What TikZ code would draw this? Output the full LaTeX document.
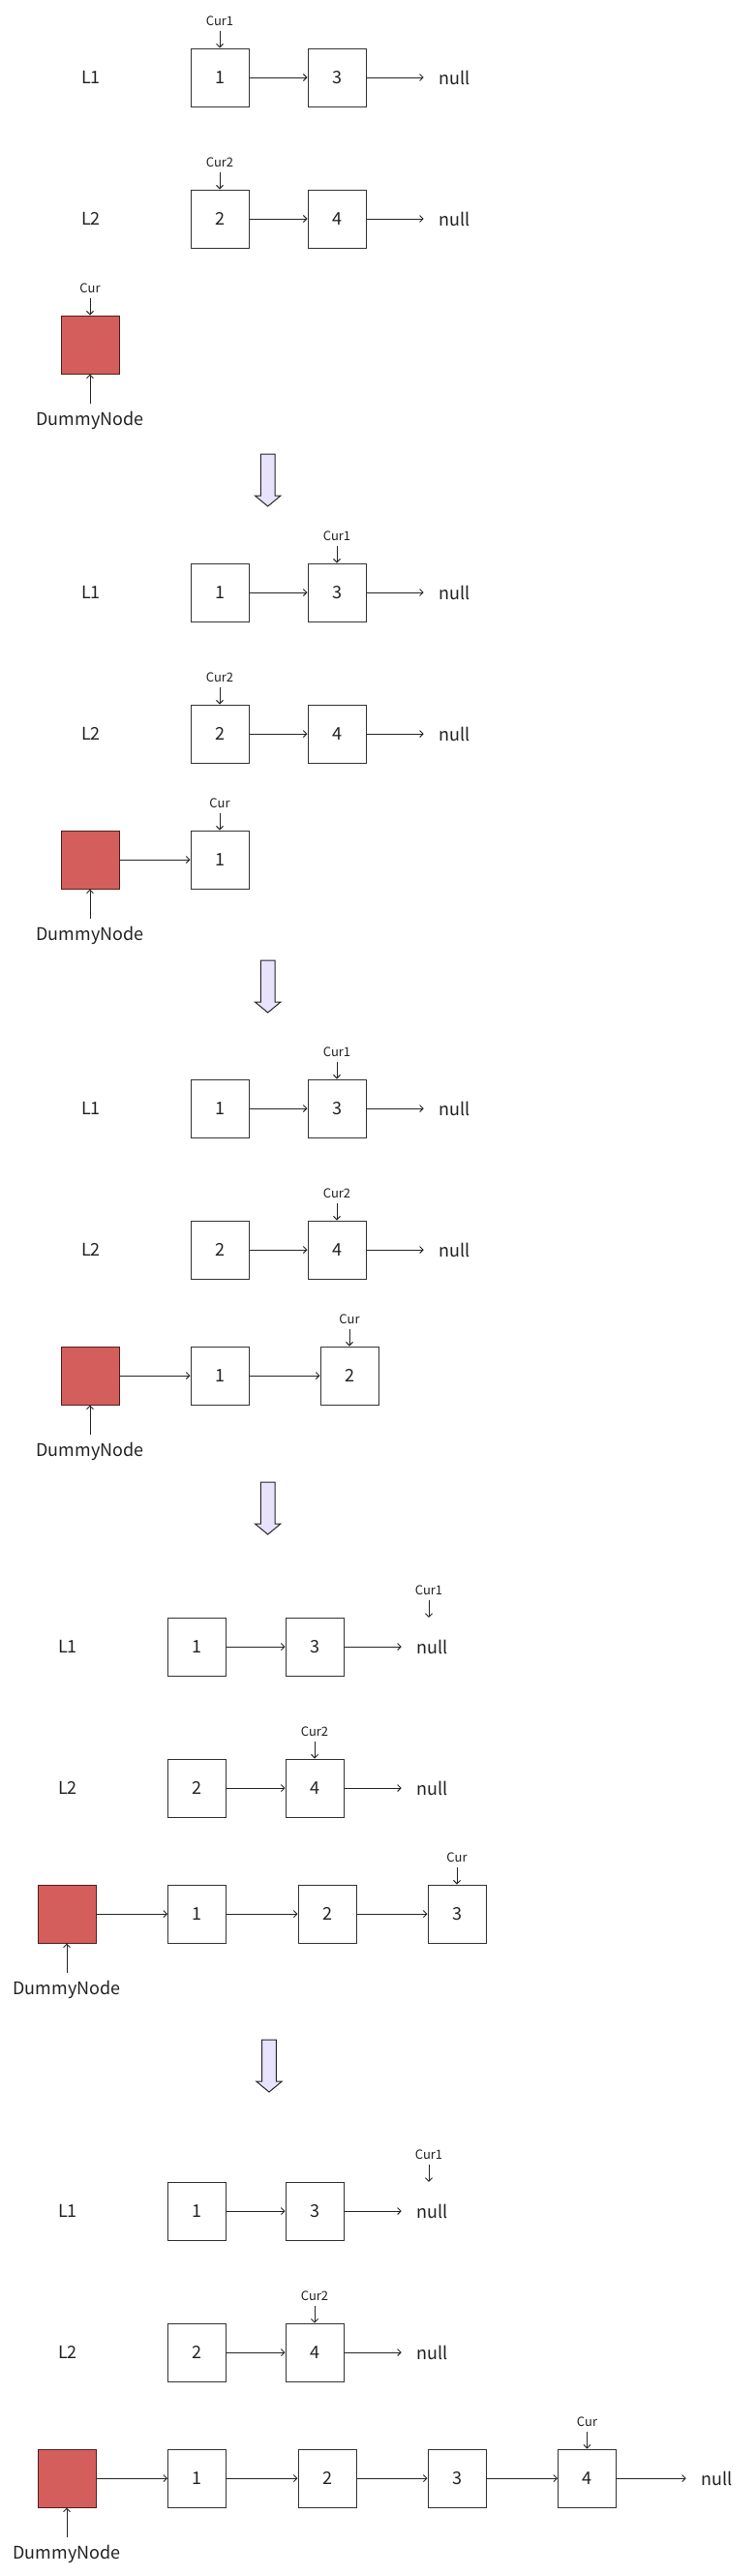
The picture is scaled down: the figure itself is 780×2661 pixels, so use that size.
\documentclass[tikz,border=0pt]{standalone}
\usepackage{fontspec}
\newfontfamily\cjk{Noto Sans CJK SC}
\usetikzlibrary{arrows.meta,positioning}
\definecolor{dummyred}{RGB}{211,94,91}
\definecolor{dummyedge}{RGB}{80,32,32}
\definecolor{lav}{RGB}{232,226,252}
\definecolor{ink}{RGB}{34,34,34}
\newcommand{\bigf}{\fontsize{18}{22}\selectfont\cjk}
\newcommand{\smallf}{\fontsize{13}{15}\selectfont\cjk}
\newcommand{\barrowat}[2]{\draw[blockarrow] (#1-7.35,#2) -- (#1+7.35,#2) -- (#1+7.35,#2+43) -- (#1+13.3,#2+43) -- (#1,#2+54) -- (#1-13.3,#2+43) -- (#1-7.35,#2+43) -- cycle;}
\tikzset{
  box/.style={draw=black!80, line width=1pt, minimum width=60pt, minimum height=60pt, inner sep=0pt, fill=white, text=ink, font=\bigf},
  dummy/.style={box, fill=dummyred, draw=dummyedge},
  lab/.style={font=\bigf, text=ink, inner sep=0pt},
  nul/.style={font=\bigf, text=ink, inner xsep=16pt, inner ysep=0pt, minimum height=60pt},
  curlab/.style={font=\smallf, text=ink, inner xsep=0pt, inner ysep=5pt, outer sep=0pt},
  dnlab/.style={font=\bigf, text=ink, inner xsep=0pt, inner ysep=9pt, outer sep=0pt},
  ptr/.style={draw=black!85, line width=0.9pt, -{Straight Barb[length=3.5pt,width=7pt]}},
  blockarrow/.style={draw=black!85, line width=1pt, fill=lav, line join=miter},
}
\begin{document}
\begin{tikzpicture}[x=1pt,y=-1pt]
\useasboundingbox[fill=white] (0,0) rectangle (780,2661);

% ---------------- Section 1 ----------------
\node[lab] (s1l1) at (94,80) {L1};
\node[box] (s1a1) at (227,80) {1};
\node[box] (s1a3) at (348,80) {3};
\node[nul] (s1an) at (470,80) {null};
\draw[ptr] (s1a1) -- (s1a3);
\draw[ptr] (s1a3) -- (s1an);
\node[curlab, above=18pt of s1a1] (s1c1) {Cur1};
\draw[ptr] (s1c1) -- (s1a1);

\node[lab] (s1l2) at (94,226) {L2};
\node[box] (s1b2) at (227,226) {2};
\node[box] (s1b4) at (348,226) {4};
\node[nul] (s1bn) at (470,226) {null};
\draw[ptr] (s1b2) -- (s1b4);
\draw[ptr] (s1b4) -- (s1bn);
\node[curlab, above=18pt of s1b2] (s1c2) {Cur2};
\draw[ptr] (s1c2) -- (s1b2);

\node[dummy] (s1d) at (93,356) {};
\node[curlab, above=18pt of s1d] (s1c) {Cur};
\draw[ptr] (s1c) -- (s1d);
\node[dnlab, below=30pt of s1d] (s1dn) {DummyNode};
\draw[ptr] (s1dn) -- (s1d);

\barrowat{276.7}{469}

% ---------------- Section 2 ----------------
\node[lab] (s2l1) at (94,612) {L1};
\node[box] (s2a1) at (227,612) {1};
\node[box] (s2a3) at (348,612) {3};
\node[nul] (s2an) at (470,612) {null};
\draw[ptr] (s2a1) -- (s2a3);
\draw[ptr] (s2a3) -- (s2an);
\node[curlab, above=18pt of s2a3] (s2c1) {Cur1};
\draw[ptr] (s2c1) -- (s2a3);

\node[lab] (s2l2) at (94,758) {L2};
\node[box] (s2b2) at (227,758) {2};
\node[box] (s2b4) at (348,758) {4};
\node[nul] (s2bn) at (470,758) {null};
\draw[ptr] (s2b2) -- (s2b4);
\draw[ptr] (s2b4) -- (s2bn);
\node[curlab, above=18pt of s2b2] (s2c2) {Cur2};
\draw[ptr] (s2c2) -- (s2b2);

\node[dummy] (s2d) at (93,888) {};
\node[box] (s2m1) at (227,888) {1};
\draw[ptr] (s2d) -- (s2m1);
\node[curlab, above=18pt of s2m1] (s2c) {Cur};
\draw[ptr] (s2c) -- (s2m1);
\node[dnlab, below=30pt of s2d] (s2dn) {DummyNode};
\draw[ptr] (s2dn) -- (s2d);

\barrowat{276.7}{992}

% ---------------- Section 3 ----------------
\node[lab] (s3l1) at (94,1145) {L1};
\node[box] (s3a1) at (227,1145) {1};
\node[box] (s3a3) at (348,1145) {3};
\node[nul] (s3an) at (470,1145) {null};
\draw[ptr] (s3a1) -- (s3a3);
\draw[ptr] (s3a3) -- (s3an);
\node[curlab, above=18pt of s3a3] (s3c1) {Cur1};
\draw[ptr] (s3c1) -- (s3a3);

\node[lab] (s3l2) at (94,1291) {L2};
\node[box] (s3b2) at (227,1291) {2};
\node[box] (s3b4) at (348,1291) {4};
\node[nul] (s3bn) at (470,1291) {null};
\draw[ptr] (s3b2) -- (s3b4);
\draw[ptr] (s3b4) -- (s3bn);
\node[curlab, above=18pt of s3b4] (s3c2) {Cur2};
\draw[ptr] (s3c2) -- (s3b4);

\node[dummy] (s3d) at (93,1421) {};
\node[box] (s3m1) at (227,1421) {1};
\node[box] (s3m2) at (361,1421) {2};
\draw[ptr] (s3d) -- (s3m1);
\draw[ptr] (s3m1) -- (s3m2);
\node[curlab, above=18pt of s3m2] (s3c) {Cur};
\draw[ptr] (s3c) -- (s3m2);
\node[dnlab, below=30pt of s3d] (s3dn) {DummyNode};
\draw[ptr] (s3dn) -- (s3d);

\barrowat{276.7}{1531}

% ---------------- Section 4 ----------------
\node[lab] (s4l1) at (70,1701) {L1};
\node[box] (s4a1) at (203.5,1701) {1};
\node[box] (s4a3) at (325,1701) {3};
\node[nul] (s4an) at (447,1701) {null};
\draw[ptr] (s4a1) -- (s4a3);
\draw[ptr] (s4a3) -- (s4an);
\node[curlab, above=18pt of s4an, xshift=-4pt] (s4c1) {Cur1};
\draw[ptr] (s4c1) -- (s4c1 |- s4an.north);

\node[lab] (s4l2) at (70,1847) {L2};
\node[box] (s4b2) at (203.5,1847) {2};
\node[box] (s4b4) at (325,1847) {4};
\node[nul] (s4bn) at (447,1847) {null};
\draw[ptr] (s4b2) -- (s4b4);
\draw[ptr] (s4b4) -- (s4bn);
\node[curlab, above=18pt of s4b4] (s4c2) {Cur2};
\draw[ptr] (s4c2) -- (s4b4);

\node[dummy] (s4d) at (69,1977) {};
\node[box] (s4m1) at (203.5,1977) {1};
\node[box] (s4m2) at (338,1977) {2};
\node[box] (s4m3) at (472,1977) {3};
\draw[ptr] (s4d) -- (s4m1);
\draw[ptr] (s4m1) -- (s4m2);
\draw[ptr] (s4m2) -- (s4m3);
\node[curlab, above=18pt of s4m3] (s4c) {Cur};
\draw[ptr] (s4c) -- (s4m3);
\node[dnlab, below=30pt of s4d] (s4dn) {DummyNode};
\draw[ptr] (s4dn) -- (s4d);

\barrowat{278}{2107}

% ---------------- Section 5 ----------------
\node[lab] (s5l1) at (70,2284) {L1};
\node[box] (s5a1) at (203.5,2284) {1};
\node[box] (s5a3) at (325,2284) {3};
\node[nul] (s5an) at (447,2284) {null};
\draw[ptr] (s5a1) -- (s5a3);
\draw[ptr] (s5a3) -- (s5an);
\node[curlab, above=18pt of s5an, xshift=-4pt] (s5c1) {Cur1};
\draw[ptr] (s5c1) -- (s5c1 |- s5an.north);

\node[lab] (s5l2) at (70,2430) {L2};
\node[box] (s5b2) at (203.5,2430) {2};
\node[box] (s5b4) at (325,2430) {4};
\node[nul] (s5bn) at (447,2430) {null};
\draw[ptr] (s5b2) -- (s5b4);
\draw[ptr] (s5b4) -- (s5bn);
\node[curlab, above=18pt of s5b4] (s5c2) {Cur2};
\draw[ptr] (s5c2) -- (s5b4);

\node[dummy] (s5d) at (69,2560) {};
\node[box] (s5m1) at (203.5,2560) {1};
\node[box] (s5m2) at (338,2560) {2};
\node[box] (s5m3) at (472,2560) {3};
\node[box] (s5m4) at (606.5,2560) {4};
\node[nul] (s5mn) at (741,2560) {null};
\draw[ptr] (s5d) -- (s5m1);
\draw[ptr] (s5m1) -- (s5m2);
\draw[ptr] (s5m2) -- (s5m3);
\draw[ptr] (s5m3) -- (s5m4);
\draw[ptr] (s5m4) -- (s5mn);
\node[curlab, above=18pt of s5m4] (s5c) {Cur};
\draw[ptr] (s5c) -- (s5m4);
\node[dnlab, below=30pt of s5d] (s5dn) {DummyNode};
\draw[ptr] (s5dn) -- (s5d);
\end{tikzpicture}
\end{document}
